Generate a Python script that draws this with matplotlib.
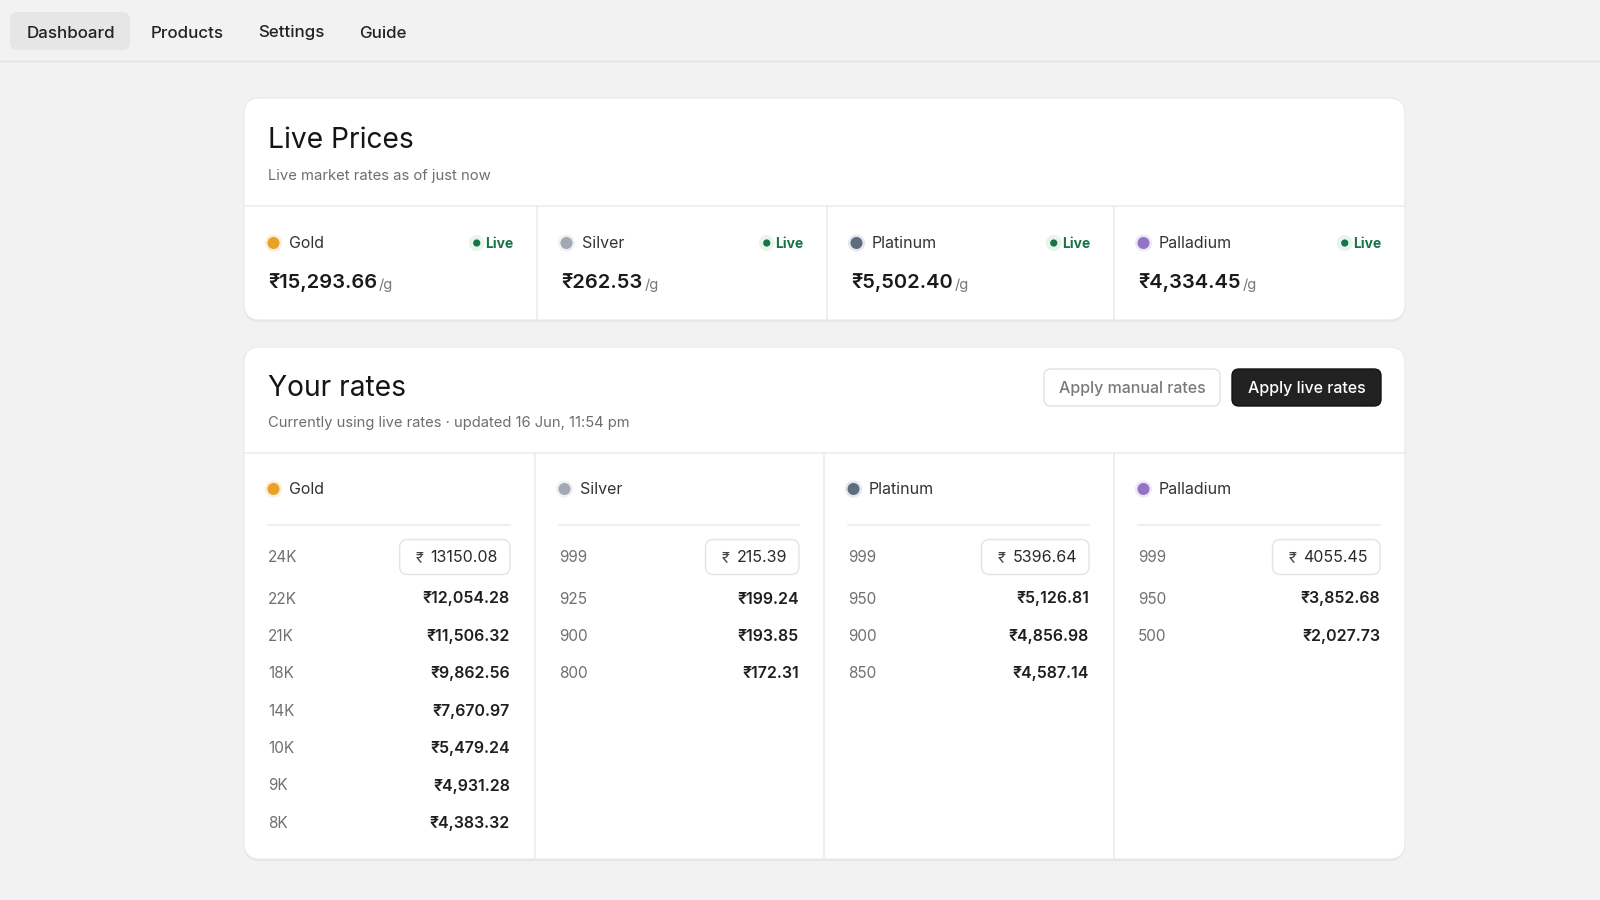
import matplotlib
matplotlib.use("Agg")
import matplotlib.pyplot as plt
from matplotlib.patches import FancyBboxPatch, Circle

plt.rcParams["font.family"] = ["Inter", "DejaVu Sans"]

# ----- data -----
nav_items = ["Dashboard", "Products", "Settings", "Guide"]
metals = ["Gold", "Silver", "Platinum", "Palladium"]
metal_colors = ["#e9a127", "#a2a9b3", "#5f6c7d", "#9175c4"]
metal_halos = ["#fcefd9", "#eef0f2", "#e4e7eb", "#ede7f6"]
live_prices = [15293.66, 262.53, 5502.40, 4334.45]
grades = [
    ["24K", "22K", "21K", "18K", "14K", "10K", "9K", "8K"],
    ["999", "925", "900", "800"],
    ["999", "950", "900", "850"],
    ["999", "950", "500"],
]
rates = [
    [13150.08, 12054.28, 11506.32, 9862.56, 7670.97, 5479.24, 4931.28, 4383.32],
    [215.39, 199.24, 193.85, 172.31],
    [5396.64, 5126.81, 4856.98, 4587.14],
    [4055.45, 3852.68, 2027.73],
]
subtitle_live = "Live market rates as of just now"
subtitle_rates = "Currently using live rates \u00b7 updated 16 Jun, 11:54 pm"

BG = "#f2f2f2"
CARD = "#ffffff"
LINE = "#ececec"
GREEN = "#17744a"
GREY = "#6e6e6e"
DY = 2  # Inter sits a bit high with va="center"

fig = plt.figure(figsize=(16, 9), dpi=100, facecolor=BG)
ax = fig.add_axes([0, 0, 1, 1])
ax.set_xlim(0, 1600)
ax.set_ylim(900, 0)
ax.axis("off")
renderer = fig.canvas.get_renderer()


def width_px(t):
    return t.get_window_extent(renderer).width


def label(x, y, s, **kw):
    kw.setdefault("va", "center")
    kw.setdefault("zorder", 5)
    return ax.text(x, y + DY, s, **kw)


def card(x0, y0, x1, y1):
    ax.add_patch(FancyBboxPatch((x0, y0 + 2), x1 - x0, y1 - y0, boxstyle="round,pad=0,rounding_size=16",
                                fc="#e6e6e6", ec="none", zorder=1))
    ax.add_patch(FancyBboxPatch((x0, y0), x1 - x0, y1 - y0, boxstyle="round,pad=0,rounding_size=16",
                                fc=CARD, ec="#e9e9e9", lw=0.8, zorder=2))


def metal_dot(x, y, i):
    ax.add_patch(Circle((x, y), 8.5, fc=metal_halos[i], ec="none", zorder=3))
    ax.add_patch(Circle((x, y), 6, fc=metal_colors[i], ec="none", zorder=4))


# ----- nav bar -----
ax.add_patch(FancyBboxPatch((10, 12), 120, 38, boxstyle="round,pad=0,rounding_size=8",
                            fc="#e6e6e6", ec="none", zorder=1))
nav_x = [27, 151, 258, 359]
for name, x in zip(nav_items, nav_x):
    label(x, 31, name, fontsize=12.2, fontweight="medium", color="#222222")
ax.plot([0, 1600], [61, 61], color="#e2e2e2", lw=1, zorder=1)

# ----- Live Prices card -----
card(244, 98, 1405, 320)
label(268, 138, "Live Prices", fontsize=20.3, color="#151515")
label(268, 174, subtitle_live, fontsize=10.7, color=GREY)
ax.plot([244, 1405], [206, 206], color=LINE, lw=1.2, zorder=3)
col1 = [244, 537, 827, 1114, 1405]
for i, m in enumerate(metals):
    left, right = col1[i], col1[i + 1]
    if i > 0:
        ax.plot([left, left], [206, 320], color=LINE, lw=1.2, zorder=3)
    metal_dot(left + 29.5, 243, i)
    label(left + 45, 242, m, fontsize=11.5, color="#333333")
    # live badge
    lt = label(right - 24, 242, "Live", fontsize=10, fontweight="bold", color=GREEN, ha="right")
    dx = right - 24 - width_px(lt) - 8
    ax.add_patch(Circle((dx, 243), 8, fc="#e9f4ed", ec="none", zorder=3))
    ax.add_patch(Circle((dx, 243), 3.6, fc=GREEN, ec="none", zorder=4))
    pt = label(left + 24, 281, f"\u20b9{live_prices[i]:,.2f}", fontsize=14.5, fontweight="semibold",
               color="#1a1a1a")
    label(left + 24 + width_px(pt) + 2, 283, "/g", fontsize=10.5, color="#777777")

# ----- Your rates card -----
card(244, 347, 1405, 859)
label(268, 386, "Your rates", fontsize=20.3, color="#151515")
label(268, 421, subtitle_rates, fontsize=10.6, color=GREY)

ax.add_patch(FancyBboxPatch((1044, 369), 176, 37, boxstyle="round,pad=0,rounding_size=7",
                            fc="#ffffff", ec="#e0e0e0", lw=1, zorder=3))
label(1132, 387, "Apply manual rates", fontsize=11.5, fontweight="medium", color="#7a7a7a", ha="center")
ax.add_patch(FancyBboxPatch((1232, 369), 149, 37, boxstyle="round,pad=0,rounding_size=7",
                            fc="#222222", ec="#111111", lw=1, zorder=3))
label(1306.5, 387, "Apply live rates", fontsize=11.5, fontweight="medium", color="#ffffff", ha="center")

ax.plot([244, 1405], [453, 453], color=LINE, lw=1.2, zorder=3)
col2 = [244, 535, 824, 1114, 1405]
for i, m in enumerate(metals):
    left, right = col2[i], col2[i + 1]
    cl, cr = left + 24, right - 25
    if i > 0:
        ax.plot([left, left], [453, 859], color=LINE, lw=1.2, zorder=3)
    metal_dot(cl + 5.5, 489, i)
    label(cl + 21, 488, m, fontsize=11.5, color="#333333")
    ax.plot([cl, cr], [524.5, 524.5], color=LINE, lw=1.2, zorder=3)
    for j, (g, v) in enumerate(zip(grades[i], rates[i])):
        y = 557 if j == 0 else 598 + (j - 1) * 37.4
        label(cl, y - 1, g, fontsize=11, color="#707070")
        if j == 0:
            nt = label(cr - 12, y - 1, f"{v:.2f}", fontsize=11.5, color="#2a2a2a", ha="right")
            nw = width_px(nt)
            label(cr - 12 - nw - 7, y - 1, "\u20b9", fontsize=10.5, color="#444444", ha="right")
            bx = cr - 12 - nw - 7 - 10 - 14
            ax.add_patch(FancyBboxPatch((bx, y - 17.5), cr - bx, 35, boxstyle="round,pad=0,rounding_size=8",
                                        fc="#ffffff", ec="#e4e4e4", lw=1, zorder=3))
        else:
            label(cr, y - 1, f"\u20b9{v:,.2f}", fontsize=11.5, fontweight="semibold", color="#1f1f1f",
                  ha="right")

fig.savefig("out.png", dpi=100, facecolor=BG)
